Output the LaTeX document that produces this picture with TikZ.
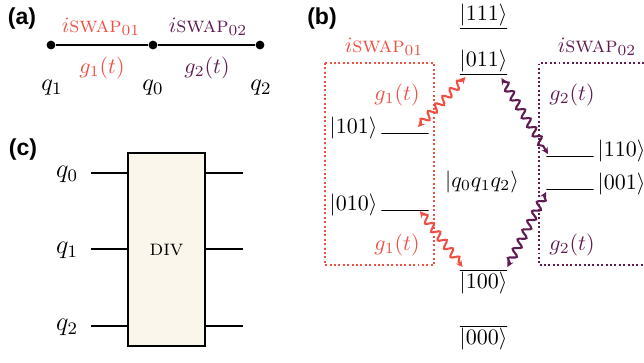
\documentclass[tikz,border=0pt]{standalone}
\usepackage{amsmath}
\usepackage{amssymb}
\usepackage{fontspec}
\newfontfamily\panelfont{Liberation Sans}
\usepackage{tikz}
\usetikzlibrary{positioning}
\usetikzlibrary{decorations.pathmorphing,arrows.meta}
\definecolor{swapa}{RGB}{240,80,68}
\definecolor{swapb}{RGB}{96,28,82}
\definecolor{gatefill}{RGB}{251,246,235}
\tikzstyle{panel} = [font=\panelfont\bfseries\fontsize{10.5}{12}\selectfont]
\tikzstyle{qdot} = [circle, fill=black, inner sep=0pt, minimum size=4pt]
\tikzstyle{lvl} = [draw=black, line width=0.4pt, inner sep=0pt, minimum width=21.4pt, minimum height=0pt]
\tikzstyle{ket} = [inner sep=1.5pt]
\tikzstyle{ketv} = [inner sep=0.3pt]
\tikzstyle{gate} = [rectangle, draw=black, line width=0.9pt, fill=gatefill, minimum width=35pt, minimum height=87.8pt]
\tikzstyle{wire} = [line width=0.9pt]
\tikzstyle{qbox} = [line width=0.55pt, dash pattern=on 0.9pt off 1.1pt]
\tikzstyle{wave} = [line width=0.95pt, decorate, decoration={snake, amplitude=1.7pt, segment length=4.8pt, pre length=2pt, post length=2pt}, {Stealth[length=3pt,width=3pt]}-{Stealth[length=3pt,width=3pt]}]

\begin{document}
\begin{tikzpicture}[x=0.455pt,y=-0.455pt]
    \useasboundingbox (0,0) rectangle (644,362);
    % (a) coupling chain
    \node (pa) [panel] at (22,19) {(a)};
    \node (d1) [qdot] at (51,45) {};
    \node (d0) [qdot] at (153,45) {};
    \node (d2) [qdot] at (260,45) {};
    \draw[line width=0.6pt] (d1) -- (d0) -- (d2);
    \node (sw01a) [text=swapa] at (101,27) {$i\textsc{swap}_{01}$};
    \node (sw02a) [text=swapb] at (208,27) {$i\textsc{swap}_{02}$};
    \node (g1a) [text=swapa] at (102,68) {$g_1(t)$};
    \node (g2a) [text=swapb] at (207,68) {$g_2(t)$};
    \node (q1a) [font=\fontsize{11}{13}\selectfont] at (52,88) {$q_1$};
    \node (q0a) [font=\fontsize{11}{13}\selectfont] at (153,88) {$q_0$};
    \node (q2a) [font=\fontsize{11}{13}\selectfont] at (261,88) {$q_2$};
    % (c) gate
    \node (pc) [panel] at (23,150) {(c)};
    \node (div) [gate] at (166.5,249.5) {\textsc{div}};
    \node (q0c) [font=\large] at (67,174) {$q_0$};
    \node (q1c) [font=\large] at (67,250) {$q_1$};
    \node (q2c) [font=\large] at (67,327) {$q_2$};
    \coordinate (w0) at (91,173);
    \coordinate (w1) at (91,249);
    \coordinate (w2) at (91,326);
    \coordinate (o0) at (243,173);
    \coordinate (o1) at (243,249);
    \coordinate (o2) at (243,326);
    \draw[wire] (w0) -- (w0 -| div.west);
    \draw[wire] (w1) -- (w1 -| div.west);
    \draw[wire] (w2) -- (w2 -| div.west);
    \draw[wire] (o0 -| div.east) -- (o0);
    \draw[wire] (o1 -| div.east) -- (o1);
    \draw[wire] (o2 -| div.east) -- (o2);
    % (b) level scheme
    \node (pb) [panel] at (322,19) {(b)};
    \draw[swapa, qbox] (325,63) rectangle (434,265);
    \draw[swapb, qbox] (644,63) -| (539,265) -- (644,265);
    \node (sw01b) [text=swapa] at (384,47) {$i\textsc{swap}_{01}$};
    \node (sw02b) [text=swapb] at (597,47) {$i\textsc{swap}_{02}$};
    \node (l111) [lvl, label={[ketv]above:$|111\rangle$}] at (483.5,28) {};
    \node (l011) [lvl, label={[ketv]above:$|011\rangle$}] at (483.5,74) {};
    \node (l101) [lvl, label={[ket, anchor=base east]left:$|101\rangle$}] at (405,133) {};
    \node (l010) [lvl, label={[ket, anchor=base east]left:$|010\rangle$}] at (405,210) {};
    \node (l110) [lvl, label={[ket, anchor=base west]right:$|110\rangle$}] at (570,156) {};
    \node (l001) [lvl, label={[ket, anchor=base west]right:$|001\rangle$}] at (570,189) {};
    \node (l100) [lvl, label={[ketv]below:$|100\rangle$}] at (483.5,270) {};
    \node (l000) [lvl, label={[ketv]below:$|000\rangle$}] at (483.5,326) {};
    \node (basis) at (482,182) {$|q_0q_1q_2\rangle$};
    \node (g1t) [text=swapa] at (397,95) {$g_1(t)$};
    \node (g2t) [text=swapb] at (572,95) {$g_2(t)$};
    \node (g1b) [text=swapa] at (397,245) {$g_1(t)$};
    \node (g2b) [text=swapb] at (572,245) {$g_2(t)$};
    \draw[wave, swapa] ([shift={(-11,-6)}]l101.east) -- ([shift={(6,3)}]l011.west);
    \draw[wave, swapb] ([shift={(-6,4)}]l011.east) -- ([shift={(2,-2)}]l110.west);
    \draw[wave, swapa] ([shift={(-9,1)}]l010.east) -- ([shift={(3,-3)}]l100.west);
    \draw[wave, swapb] ([shift={(0,3)}]l001.west) -- ([shift={(0,-3)}]l100.east);
\end{tikzpicture}
\end{document}
